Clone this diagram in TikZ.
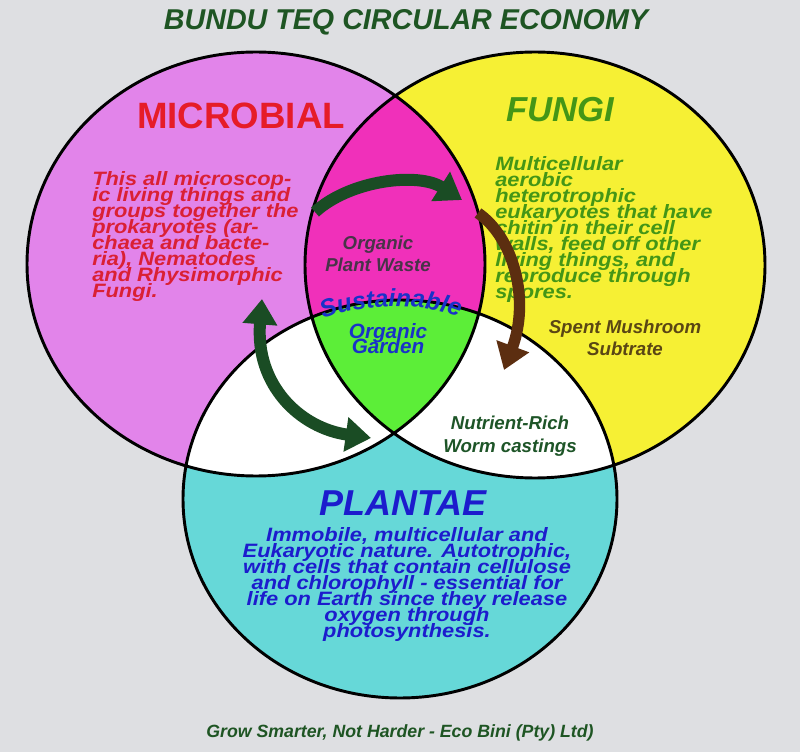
\documentclass[tikz,border=0pt]{standalone}
\usepackage{fontspec}
\setmainfont{Liberation Sans}
\newfontfamily\bodyfam[FakeStretch=1.13]{Liberation Sans}
\usetikzlibrary{arrows.meta,decorations.text}

\definecolor{bggray}{RGB}{222,223,226}
\definecolor{micropink}{RGB}{226,132,234}
\definecolor{hotpink}{RGB}{240,48,186}
\definecolor{fungiyellow}{RGB}{246,240,52}
\definecolor{plantcyan}{RGB}{102,216,216}
\definecolor{gardengreen}{RGB}{92,238,56}
\definecolor{titlegreen}{RGB}{30,85,35}
\definecolor{microred}{RGB}{230,28,40}
\definecolor{microtext}{RGB}{218,32,52}
\definecolor{fungigreen}{RGB}{68,150,22}
\definecolor{plantblue}{RGB}{28,28,205}
\definecolor{gardenblue}{RGB}{25,50,200}
\definecolor{wastegray}{RGB}{72,52,72}
\definecolor{spentbrown}{RGB}{90,70,20}
\definecolor{castgreen}{RGB}{30,85,40}
\definecolor{arrowgreen}{RGB}{26,76,36}
\definecolor{arrowbrown}{RGB}{92,46,16}

\newcommand\bodyfont{\bodyfam\fontsize{14.5}{12}\selectfont\bfseries\itshape\lineskiplimit=-\maxdimen}
\newcommand\notefont{\fontsize{14}{16.8}\selectfont\bfseries\itshape\lineskiplimit=-\maxdimen}
\newcommand\gardenfont{\fontsize{15.5}{11.8}\selectfont\bfseries\itshape\lineskiplimit=-\maxdimen}
\newcommand\archfont{\fontsize{18.5}{18.5}\selectfont\bfseries\itshape}

% the three kingdoms
\def\microbial{(256,264) ellipse [x radius=229, y radius=212]}
\def\fungi{(535,265) ellipse [x radius=230, y radius=213]}
\def\plantae{(400,499) ellipse [x radius=217, y radius=199]}

\begin{document}
\begin{tikzpicture}[x=0.75pt,y=-0.75pt,
  every node/.style={inner sep=0pt},
  heading/.style={font=\fontsize{#1}{#1}\selectfont\bfseries\itshape},
  bodytext/.style={font=\bodyfont, align=#1},
  note/.style={font=\notefont, align=center},
  greenflow/.style={draw=arrowgreen, line width=9pt},
  brownflow/.style={draw=arrowbrown, line width=8.5pt},
  bigtip/.tip={Triangle[length=19pt,width=25pt]}]
\useasboundingbox (0,0) rectangle (800,752);
\fill[bggray] (0,0) rectangle (800,752);

% circles and overlaps
\fill[micropink] \microbial;
\fill[fungiyellow] \fungi;
\fill[plantcyan] \plantae;
\begin{scope}
\clip \fungi;
\fill[white] \plantae;
\end{scope}
\begin{scope}
\clip \microbial;
\fill[hotpink] \fungi;
\fill[white] \plantae;
\clip \fungi;
\fill[gardengreen] \plantae;
\end{scope}
\draw[line width=2.2pt] \microbial \fungi \plantae;

% headings
\node[heading=21.5, text=titlegreen] (title) at (406,22) {BUNDU TEQ CIRCULAR ECONOMY};
\node[heading=27.5, text=microred, font=\fontsize{27.5}{27.5}\selectfont\bfseries] (microbialLabel) at (241,116) {MICROBIAL};
\node[heading=26, text=fungigreen] (fungiLabel) at (560,110) {FUNGI};
\node[heading=27, text=plantblue] (plantaeLabel) at (403,503) {PLANTAE};

% descriptions
\node[bodytext=left, text=microtext, anchor=north west] (microbialText) at (92,171)
  {This all microscop-\\ic living things and\\groups together the\\prokaryotes (ar-\\chaea and bacte-\\ria), Nematodes\\and Rhysimorphic\\Fungi.};
\node[bodytext=left, text=fungigreen, anchor=north west] (fungiText) at (495,156)
  {Multicellular\\aerobic\\heterotrophic\\eukaryotes that have\\chitin in their cell\\walls, feed off other\\living things, and\\reproduce through\\spores.};
\node[bodytext=center, text=plantblue, anchor=north] (plantaeText) at (407,527)
  {Immobile, multicellular and\\Eukaryotic nature. Autotrophic,\\with cells that contain cellulose\\and chlorophyll - essential for\\life on Earth since they release\\oxygen through\\photosynthesis.};

% overlap labels
\node[note, text=wastegray] (waste) at (378,254) {Organic\\Plant Waste};
\node[note, text=spentbrown] (spent) at (625,338) {Spent Mushroom\\Subtrate};
\node[note, text=castgreen] (castings) at (510,436) {Nutrient-Rich\\Worm castings};
\path[decorate, decoration={text along path, text={|\archfont|Sustainable},
  text align=center, text color=gardenblue}]
  (314,324) .. controls (350,302) and (430,300) .. (468,322);
\node[font=\gardenfont, align=center, text=gardenblue, anchor=north] (garden) at (388,323) {Organic\\Garden};

% flows
\coordinate (wasteTail) at (315,212);
\coordinate (wasteHead) at (462,200);
\coordinate (spentTail) at (478,213);
\coordinate (castingsHead) at (504,370);
\coordinate (microbialHead) at (262,299);
\coordinate (gardenHead) at (371,438);
\draw[greenflow, -bigtip] (wasteTail) .. controls (350,180) and (418,172) .. (wasteHead);
\draw[brownflow, -bigtip] (spentTail) .. controls (514,238) and (530,300) .. (castingsHead);
\draw[greenflow, bigtip-bigtip] (microbialHead) .. controls (255,385) and (300,428) .. (gardenHead);

\node[font=\fontsize{13.3}{16}\selectfont\bfseries\itshape, text=titlegreen] (footer) at (400,733)
  {Grow Smarter, Not Harder - Eco Bini (Pty) Ltd)};
\end{tikzpicture}
\end{document}
